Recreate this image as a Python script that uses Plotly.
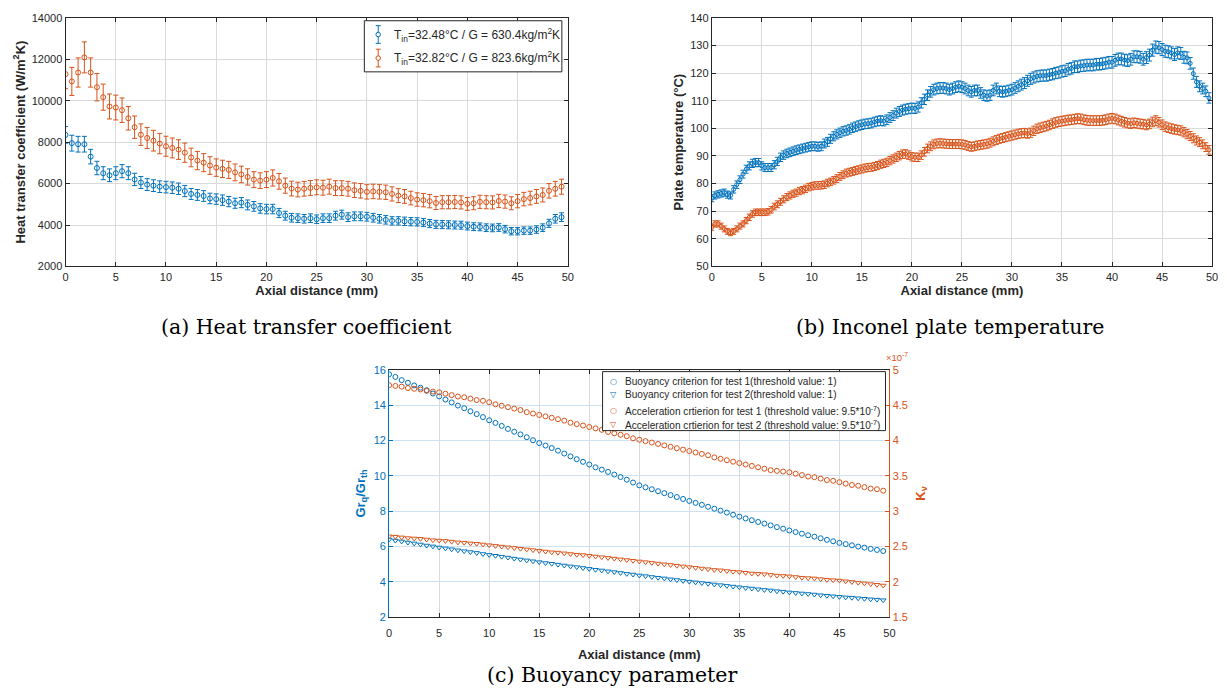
import numpy as np
import plotly.graph_objects as go

BLUE = "#0072BD"
ORANGE = "#D95319"
INK = "#262626"
GRID = "#dadada"
FONT = "Liberation Sans"

# ---------------- (a) heat transfer coefficient ----------------
htc_step_mm = 0.625
htc_test1 = [
    8350, 7950, 7900, 7900, 7300, 6750, 6500, 6400, 6500, 6600,
    6500, 6200, 6050, 5950, 5900, 5850, 5830, 5800, 5750, 5640,
    5500, 5450, 5400, 5280, 5250, 5200, 5130, 5050, 5080, 4970,
    4900, 4800, 4770, 4770, 4580, 4450, 4350, 4330,
    4300, 4330, 4280, 4330, 4330, 4450, 4500, 4380, 4420, 4420,
    4400, 4350, 4300, 4250, 4200, 4200, 4180, 4160, 4150, 4120,
    4070, 4030, 4020, 4010, 4000, 3990, 3950, 3920, 3910, 3870,
    3860, 3880, 3800, 3700, 3700, 3730, 3730, 3780, 3870, 4080,
    4300, 4380,
]
htc_test2 = [
    11280, 10930, 11360, 12090, 11360, 10650, 10170, 9720, 9670, 9540,
    9150, 8720, 8360, 8200, 8070, 7930, 7800, 7720, 7640, 7490,
    7260, 7110, 7010, 6870, 6770, 6710, 6660, 6540, 6440, 6320,
    6190, 6140, 6190, 6270, 6110, 5900, 5760, 5710,
    5750, 5790, 5820, 5800, 5850, 5780, 5780, 5750, 5680, 5650,
    5600, 5620, 5600, 5580, 5500, 5420, 5380, 5300, 5230, 5200,
    5150, 5060, 5100, 5100, 5110, 5090, 5020, 5050, 5120, 5100,
    5090, 5160, 5130, 5050, 5150, 5250, 5300, 5380, 5450, 5650,
    5750, 5850,
]
htc_rel_unc_test1 = 0.048
htc_rel_unc_test2 = 0.062
htc_labels = [
    "T<sub>in</sub>=32.48°C / G = 630.4kg/m<sup>2</sup>K",
    "T<sub>in</sub>=32.82°C / G = 823.6kg/m<sup>2</sup>K",
]

# ---------------- (b) Inconel plate temperature ----------------
temp_step_mm = 0.3125
temp_test1 = [
    74.7, 75.7, 76.1, 76.4, 76.7, 76.0, 75.7, 77.9, 79.6, 81.4, 83.4, 85.2, 86.4, 87.3, 87.6, 87.6, 86.4,
    85.8, 85.8, 85.8, 86.8, 88.0, 89.5, 90.3, 90.9, 91.3, 91.7, 92.1, 92.4, 92.7, 93.0, 93.3, 93.5,
    93.5, 93.3, 93.5, 94.5, 95.1, 96.2, 97.1, 97.8, 98.4, 98.9, 99.2, 99.6, 100.2, 100.6, 101.0, 101.3,
    101.6, 101.7, 101.9, 102.3, 102.6, 102.8, 102.6, 103.1, 103.9, 104.6, 105.5, 106.1, 106.6, 106.9, 107.1, 107.3,
    107.2, 107.7, 109.2, 110.5, 112.0, 113.2, 114.0, 114.4, 114.6, 114.6, 114.4, 114.0,
    114.4, 114.9, 115.2, 114.9, 114.4, 113.7, 113.2, 113.7, 113.7, 112.8, 112.0, 111.7,
    112.0, 113.7, 114.4, 113.4, 113.2, 113.4, 113.7, 114.0, 114.6, 115.2, 115.8, 116.4,
    117.2, 117.9, 118.4, 118.8, 119.0, 119.1, 119.1, 119.4, 119.6, 120.0, 120.2, 120.6,
    120.8, 121.4, 121.7, 122.3, 122.3, 122.6, 122.7, 122.9, 122.9, 122.9, 123.2, 123.2,
    123.4, 123.6, 123.9, 123.9, 124.6, 125.1, 125.1, 124.7, 124.5, 125.0, 125.9, 125.9,
    125.7, 125.0, 125.6, 126.5, 128.3, 129.4, 129.2, 128.5, 127.9, 127.7, 127.3, 126.7,
    127.3, 127.1, 125.7, 125.5, 123.5, 119.8, 116.8, 115.2, 114.4, 113.4, 111.0,
]
temp_test2 = [
    64.2, 65.4, 65.4, 64.6, 63.6, 62.7, 62.2, 62.7, 63.6, 64.6, 65.4, 66.6, 67.8, 69.0, 69.6, 69.6, 69.6,
    69.6, 69.8, 70.5, 71.7, 72.5, 73.4, 74.3, 75.1, 75.7, 76.3, 76.7, 77.3, 77.6, 78.1, 78.7, 79.0,
    79.3, 79.3, 79.4, 79.6, 80.2, 80.6, 81.2, 81.8, 82.6, 83.2, 83.8, 84.1, 84.4, 84.7, 85.0, 85.3,
    85.6, 85.8, 85.9, 86.2, 86.5, 87.0, 87.3, 87.7, 88.3, 88.9, 89.5, 90.1, 90.6, 90.7, 90.3, 89.7,
    89.5, 89.5, 90.3, 91.5, 92.7, 93.5, 94.2, 94.5, 94.6, 94.5, 94.4, 94.3,
    94.3, 94.3, 94.3, 94.2, 94.0, 93.6, 93.3, 93.5, 93.8, 94.0, 94.2, 94.4,
    94.8, 95.3, 95.8, 96.2, 96.5, 96.8, 97.1, 97.4, 97.7, 98.0, 98.2, 98.3,
    98.1, 98.4, 99.1, 99.8, 100.2, 100.5, 100.8, 101.2, 101.7, 102.1, 102.4, 102.6,
    102.8, 103.0, 103.1, 103.3, 103.5, 103.4, 103.1, 102.9, 102.8, 102.8, 102.8, 102.8,
    102.9, 103.1, 103.4, 103.6, 103.4, 103.0, 102.6, 102.2, 101.9, 101.7, 102.0, 101.8,
    101.6, 101.5, 101.2, 101.6, 102.3, 102.8, 102.2, 101.3, 100.6, 100.2, 99.9, 99.6,
    99.4, 99.2, 98.6, 97.9, 97.2, 96.4, 95.6, 95.0, 94.2, 93.2, 92.2,
]
temp_rel_unc = 0.017

# ---------------- (c) buoyancy parameter ----------------
buoy_step_mm = 0.625
gr_ratio_test1 = [
    15.74, 15.59, 15.41, 15.26, 15.11, 14.98, 14.84, 14.65,
    14.49, 14.31, 14.15, 13.97, 13.82, 13.65, 13.49, 13.32,
    13.14, 12.99, 12.82, 12.65, 12.49, 12.34, 12.18, 12.01,
    11.85, 11.71, 11.57, 11.42, 11.26, 11.10, 10.94, 10.79,
    10.64, 10.48, 10.35, 10.22, 10.07, 9.93, 9.78, 9.62,
    9.46, 9.35, 9.24, 9.13, 9.02, 8.91, 8.80, 8.69,
    8.58, 8.47, 8.36, 8.25, 8.14, 8.03, 7.92, 7.80,
    7.69, 7.59, 7.49, 7.39, 7.30, 7.20, 7.10, 7.01,
    6.91, 6.82, 6.73, 6.64, 6.56, 6.47, 6.38, 6.30,
    6.21, 6.14, 6.07, 6.00, 5.94, 5.87, 5.81, 5.75,
]
gr_ratio_test2 = [
    6.40, 6.34, 6.29, 6.23, 6.18, 6.12, 6.06, 6.01,
    5.95, 5.90, 5.85, 5.79, 5.74, 5.69, 5.64, 5.58,
    5.53, 5.48, 5.43, 5.38, 5.32, 5.27, 5.22, 5.17,
    5.12, 5.07, 5.03, 4.98, 4.93, 4.88, 4.84, 4.79,
    4.74, 4.69, 4.65, 4.60, 4.56, 4.51, 4.46, 4.42,
    4.37, 4.33, 4.28, 4.24, 4.20, 4.15, 4.11, 4.06,
    4.02, 3.98, 3.94, 3.90, 3.86, 3.82, 3.78, 3.74,
    3.70, 3.66, 3.63, 3.59, 3.55, 3.52, 3.48, 3.45,
    3.41, 3.38, 3.35, 3.32, 3.29, 3.25, 3.22, 3.19,
    3.16, 3.13, 3.11, 3.08, 3.05, 3.02, 3.00, 2.97,
]
# acceleration parameter K_v, in units of 1e-7
kv_test1_e7 = [
    4.78, 4.77, 4.76, 4.74, 4.73, 4.72, 4.70, 4.69,
    4.68, 4.66, 4.64, 4.62, 4.61, 4.59, 4.57, 4.56,
    4.54, 4.51, 4.49, 4.47, 4.45, 4.43, 4.40, 4.38,
    4.36, 4.34, 4.32, 4.30, 4.28, 4.25, 4.23, 4.21,
    4.19, 4.17, 4.15, 4.12, 4.10, 4.08, 4.06, 4.03,
    4.01, 3.99, 3.97, 3.95, 3.93, 3.91, 3.89, 3.87,
    3.85, 3.83, 3.81, 3.79, 3.76, 3.74, 3.72, 3.70,
    3.68, 3.66, 3.64, 3.62, 3.60, 3.58, 3.57, 3.56,
    3.55, 3.53, 3.51, 3.49, 3.48, 3.46, 3.44, 3.43,
    3.41, 3.39, 3.37, 3.36, 3.34, 3.32, 3.31, 3.29,
]
kv_test2_e7 = [
    2.645, 2.64, 2.63, 2.62, 2.615, 2.61, 2.60, 2.59,
    2.585, 2.58, 2.57, 2.56, 2.555, 2.545, 2.54, 2.53,
    2.52, 2.51, 2.50, 2.49, 2.48, 2.47, 2.46, 2.45,
    2.44, 2.43, 2.42, 2.415, 2.405, 2.395, 2.385, 2.38,
    2.37, 2.36, 2.35, 2.34, 2.33, 2.32, 2.31, 2.30,
    2.29, 2.28, 2.27, 2.26, 2.25, 2.24, 2.23, 2.22,
    2.21, 2.20, 2.19, 2.18, 2.17, 2.165, 2.155, 2.145,
    2.14, 2.13, 2.12, 2.115, 2.11, 2.10, 2.09, 2.085,
    2.08, 2.07, 2.06, 2.055, 2.05, 2.04, 2.03, 2.025,
    2.02, 2.01, 2.00, 1.99, 1.98, 1.97, 1.96, 1.95,
]
buoy_labels = [
    "Buoyancy criterion for test 1(threshold value: 1)",
    "Buoyancy criterion for test 2(threshold value: 1)",
    "Acceleration crtierion for test 1 (threshold value: 9.5*10<sup>-7</sup>)",
    "Acceleration crtierion for test 2 (threshold value: 9.5*10<sup>-7</sup>)",
]
kv_ticks_e7 = [1.5, 2, 2.5, 3, 3.5, 4, 4.5, 5]

captions = [
    "(a) Heat transfer coefficient",
    "(b) Inconel plate temperature",
    "(c) Buoyancy parameter",
]

# ---------------------------------------------------------------
W, H = 1227, 700


def px_x(p):
    return p / W


def px_y(p):
    return 1 - p / H


x_htc = np.arange(len(htc_test1)) * htc_step_mm
x_temp = np.arange(len(temp_test1)) * temp_step_mm
x_buoy = np.arange(len(gr_ratio_test1)) * buoy_step_mm

fig = go.Figure()


def err_trace(x, y, rel, color, name, xa, ya, msize=5):
    y = np.asarray(y, dtype=float)
    return go.Scatter(
        x=x, y=y, mode="markers", name=name, xaxis=xa, yaxis=ya, showlegend=False,
        marker=dict(symbol="circle-open", size=msize, color=color, line=dict(width=1, color=color)),
        error_y=dict(type="data", array=y * rel, color=color, thickness=1, width=2.5),
    )


fig.add_trace(err_trace(x_htc, htc_test1, htc_rel_unc_test1, BLUE, htc_labels[0], "x", "y"))
fig.add_trace(err_trace(x_htc, htc_test2, htc_rel_unc_test2, ORANGE, htc_labels[1], "x", "y"))

fig.add_trace(err_trace(x_temp, temp_test1, temp_rel_unc, BLUE, "test 1", "x2", "y2", msize=4))
fig.add_trace(err_trace(x_temp, temp_test2, temp_rel_unc, ORANGE, "test 2", "x2", "y2", msize=4))

kv_scale = 1e-7
series_c = [
    (gr_ratio_test1, 1.0, "circle-open", BLUE, "y3", "○"),
    (gr_ratio_test2, 1.0, "triangle-down-open", BLUE, "y3", "▽"),
    (kv_test1_e7, kv_scale, "circle-open", ORANGE, "y4", "○"),
    (kv_test2_e7, kv_scale, "triangle-down-open", ORANGE, "y4", "▽"),
]
for (vals, scale, sym, col, ya, _), lab in zip(series_c, buoy_labels):
    fig.add_trace(go.Scatter(
        x=x_buoy, y=np.asarray(vals) * scale, mode="markers", name=lab,
        xaxis="x3", yaxis=ya, showlegend=False,
        marker=dict(symbol=sym, size=5, color=col, line=dict(width=1, color=col)),
    ))

tickfont = dict(family=FONT, size=11, color=INK)
titlefont = dict(family=FONT, size=13, color=INK, weight="bold")

common_x = dict(
    range=[0, 50], tickvals=list(range(0, 51, 5)), ticks="inside", ticklen=4,
    tickcolor=INK, showline=True, linecolor=INK, linewidth=1, mirror="ticks",
    showgrid=True, gridcolor=GRID, gridwidth=1, zeroline=False, tickfont=tickfont,
    title=dict(text="Axial distance (mm)", font=titlefont, standoff=1),
)
common_y = dict(
    ticks="inside", ticklen=4, tickcolor=INK, showline=True, linecolor=INK, linewidth=1,
    mirror="ticks", showgrid=True, gridcolor=GRID, gridwidth=1, zeroline=False,
    tickfont=tickfont,
)

fig.update_layout(
    width=W, height=H, autosize=False,
    margin=dict(l=0, r=0, t=0, b=0),
    paper_bgcolor="white", plot_bgcolor="white",
    font=dict(family=FONT, color=INK),
    showlegend=False,
    xaxis=dict(common_x, domain=[px_x(63), px_x(569)], anchor="y"),
    yaxis=dict(common_y, domain=[px_y(265), px_y(12)], anchor="x", range=[2000, 14000],
               tickvals=list(range(2000, 14001, 2000)), tickformat="d",
               title=dict(text="Heat transfer coefficient (W/m<sup>2</sup>K)", font=titlefont, standoff=3)),
    xaxis2=dict(common_x, domain=[px_x(714), px_x(1218)], anchor="y2"),
    yaxis2=dict(common_y, domain=[px_y(265), px_y(12)], anchor="x2", range=[50, 140],
                tickvals=list(range(50, 141, 10)),
                title=dict(text="Plate temperature (°C)", font=titlefont, standoff=3)),
    xaxis3=dict(common_x, domain=[px_x(389), px_x(893)], anchor="y3", ticklabelstandoff=5,
                title=dict(text="Axial distance (mm)", font=titlefont, standoff=12)),
    yaxis3=dict(common_y, domain=[px_y(622), px_y(370)], anchor="x3", range=[2, 16],
                tickvals=list(range(2, 17, 2)), mirror=False, linecolor=BLUE, tickcolor=BLUE,
                gridcolor="#cfe2f3", tickfont=dict(family=FONT, size=11, color=BLUE),
                title=dict(text="Gr<sub>q</sub>/Gr<sub>th</sub>",
                           font=dict(family=FONT, size=13, color=BLUE, weight="bold"), standoff=5)),
    yaxis4=dict(overlaying="y3", side="right", anchor="x3", range=[1.5 * kv_scale, 5 * kv_scale],
                tickvals=[t * kv_scale for t in kv_ticks_e7],
                ticktext=[f"{t:g}" for t in kv_ticks_e7],
                ticks="inside", ticklen=4, tickcolor=ORANGE, showline=True, linecolor=ORANGE,
                linewidth=1, showgrid=False, zeroline=False,
                tickfont=dict(family=FONT, size=11, color=ORANGE),
                title=dict(text="K<sub>v</sub>",
                           font=dict(family=FONT, size=13, color=ORANGE, weight="bold"), standoff=8)),
)

shapes = []
annotations = []


def legend_box(x0, x1, y0, y1):
    shapes.append(dict(type="rect", xref="paper", yref="paper", layer="above",
                       x0=px_x(x0), x1=px_x(x1), y0=px_y(y1), y1=px_y(y0),
                       line=dict(color=INK, width=1), fillcolor="white"))


def legend_text(text, x, y, size, color=INK, family=FONT, anchor="left"):
    annotations.append(dict(text=text, x=px_x(x), y=px_y(y), xref="paper", yref="paper",
                            xanchor=anchor, yanchor="middle", showarrow=False,
                            font=dict(family=family, size=size, color=color)))


def errorbar_glyph(x, y, color, half=9, cap=2.5):
    # small error-bar key: vertical bar with caps and an open circle
    for seg in [(x, y - half, x, y + half), (x - cap, y - half, x + cap, y - half),
                (x - cap, y + half, x + cap, y + half)]:
        shapes.append(dict(type="line", xref="paper", yref="paper", layer="above",
                           x0=px_x(seg[0]), y0=px_y(seg[1]), x1=px_x(seg[2]), y1=px_y(seg[3]),
                           line=dict(color=color, width=1)))
    shapes.append(dict(type="circle", xref="paper", yref="paper", layer="above",
                       x0=px_x(x - 2.3), x1=px_x(x + 2.3), y0=px_y(y + 2.3), y1=px_y(y - 2.3),
                       line=dict(color=color, width=1), fillcolor="white"))


# key for panel (a)
legend_box(364, 563, 15, 67)
for lab, col, ry in zip(htc_labels, [BLUE, ORANGE], [29, 53]):
    errorbar_glyph(378, ry, col)
    legend_text(lab, 392, ry, 12)

# key for panel (c)
legend_box(604, 889, 372, 432)
for (vals, scale, sym, col, ya, glyph), lab, ry in zip(series_c, buoy_labels, [382.5, 395, 412, 426]):
    legend_text(glyph, 615, ry, 8, color=col, family="DejaVu Sans", anchor="center")
    legend_text(lab, 625, ry, 10.1)

legend_text("×10<sup>-7</sup>", 888, 357, 9.5, color=ORANGE)

for cap, cx, cy in zip(captions, [306, 954, 614], [327, 327, 681]):
    annotations.append(dict(text=cap, x=px_x(cx), y=px_y(cy), xref="paper", yref="paper",
                            xanchor="center", yanchor="middle", showarrow=False,
                            font=dict(family="DejaVu Serif", size=20.5, color="black")))
fig.update_layout(annotations=annotations, shapes=shapes)

fig.write_html("out.html")
